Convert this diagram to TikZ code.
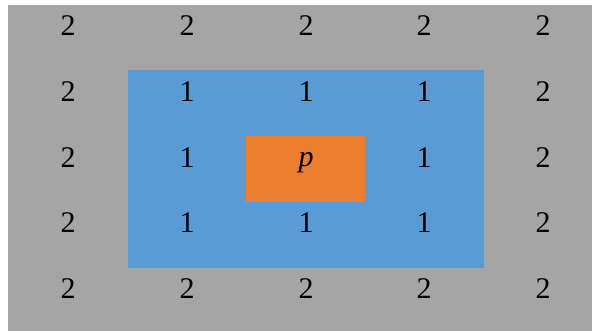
\documentclass[tikz,border=0pt]{standalone}
\usepackage{fontspec}
\setmainfont{Liberation Serif}
\definecolor{cellgray}{HTML}{A5A5A5}
\definecolor{cellblue}{HTML}{5B9BD5}
\definecolor{cellorange}{HTML}{ED7D31}
\begin{document}
\begin{tikzpicture}[x=1pt,y=-1pt,
  val/.style={font=\fontsize{30}{30}\selectfont, text=black, inner sep=0pt}]
\useasboundingbox (0,0) rectangle (592,331);
% distance rings
\fill[cellgray] (8,5) rectangle (592,331);
\fill[cellblue] (127.5,70.5) rectangle (484,268);
\fill[cellorange] (245.5,136.5) rectangle (365,202.5);
% labels
\foreach \c [count=\i] in {68,187,306,424,543} {
  \node[val] (top\i) at (\c,26) {2};
  \node[val] (bot\i) at (\c,289) {2};
}
\foreach \r [count=\j] in {92,158,223} {
  \node[val] (left\j) at (68,\r) {2};
  \node[val] (right\j) at (543,\r) {2};
}
\foreach \c [count=\i] in {187,306,424} {
  \node[val] (upper\i) at (\c,92) {1};
  \node[val] (lower\i) at (\c,223) {1};
}
\node[val] (midL) at (187,158) {1};
\node[val] (midR) at (424,158) {1};
\node[val, anchor=base] (center) at (306,167) {\textit{p}};
\end{tikzpicture}
\end{document}
